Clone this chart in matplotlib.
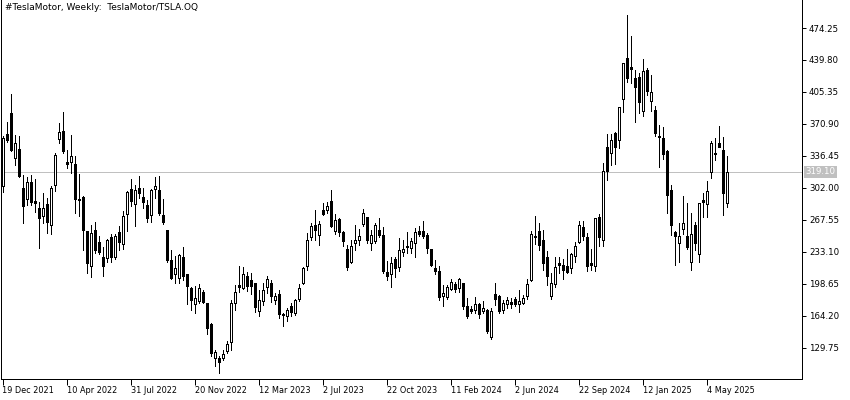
import matplotlib
matplotlib.use('Agg')
import matplotlib.pyplot as plt
import numpy as np

# weekly TSLA candles, first bar = week of 19 Dec 2021
opens = [303.6, 360.0, 382.6, 334.0, 344.0, 302.0, 290.0, 308.0, 287.5, 280.0,
         272.0, 285.0, 262.0, 305.0, 355.0, 363.0, 329.5, 330.0, 328.0, 290.0,
         292.0, 255.0, 218.0, 257.0, 244.0, 228.0, 226.0, 249.0, 228.0, 254.0,
         241.0, 274.0, 301.0, 285.0, 302.0, 292.0, 284.0, 273.0, 301.0, 300.0,
         273.0, 256.8, 224.5, 209.4, 204.8, 228.0, 209.4, 194.0, 177.0, 180.0,
         190.0, 177.6, 155.4, 118.6, 118.6, 118.6, 125.8, 135.5, 178.4, 195.0,
         194.0, 206.5, 203.0, 199.4, 168.8, 179.6, 195.0, 200.0, 180.7, 187.9,
         166.4, 163.4, 174.3, 167.1, 182.1, 200.0, 218.0, 248.8, 262.2, 251.4,
         278.3, 277.6, 288.3, 255.0, 268.3, 253.9, 236.0, 221.6, 243.1, 245.3,
         263.3, 271.0, 243.1, 244.2, 256.8, 251.4, 210.9, 209.4, 225.3, 216.6,
         233.4, 239.5, 237.0, 243.1, 255.0, 255.0, 251.4, 236.0, 215.5, 212.6,
         185.0, 184.3, 192.9, 198.6, 194.0, 199.4, 175.0, 168.8, 170.0, 177.0,
         168.8, 170.7, 141.2, 187.9, 185.0, 169.9, 177.1, 176.7, 182.5, 177.0,
         178.4, 185.0, 203.0, 249.0, 256.0, 245.3, 227.4, 185.0, 198.6, 221.0,
         219.0, 217.3, 215.5, 229.0, 243.2, 259.7, 249.0, 219.0, 218.0, 270.5,
         246.0, 345.8, 339.2, 361.5, 353.6, 397.5, 441.6, 431.9, 420.0, 421.8,
         384.3, 429.0, 396.0, 386.0, 358.0, 355.5, 341.5, 299.8, 254.0, 243.0,
         257.5, 250.0, 222.6, 262.0, 231.0, 289.0, 284.5, 319.0, 340.0, 350.1,
         343.0, 285.5]
highs = [357.7, 373.0, 402.7, 358.6, 358.0, 316.0, 314.0, 316.0, 311.0, 286.5,
         296.0, 291.0, 304.0, 340.0, 372.0, 384.0, 343.0, 359.0, 336.0, 317.0,
         293.0, 256.0, 262.0, 265.0, 250.0, 238.0, 247.0, 252.0, 252.0, 261.0,
         277.0, 298.5, 312.0, 305.0, 315.0, 302.0, 289.0, 301.0, 314.0, 315.0,
         290.0, 257.0, 235.0, 228.8, 231.0, 238.0, 209.4, 195.0, 195.7, 198.0,
         191.5, 178.0, 156.0, 127.6, 120.4, 127.0, 137.0, 181.0, 197.0, 218.0,
         217.0, 211.0, 210.0, 199.8, 191.4, 199.0, 207.5, 202.7, 189.0, 191.4,
         167.0, 172.0, 177.4, 182.0, 198.6, 217.0, 253.2, 264.6, 278.3, 266.0,
         285.5, 286.5, 299.8, 274.0, 269.5, 255.0, 240.6, 246.0, 262.2, 258.0,
         279.0, 271.0, 256.8, 264.0, 269.2, 259.5, 223.7, 228.0, 227.0, 248.0,
         245.3, 253.9, 248.0, 258.6, 260.5, 266.0, 253.0, 236.5, 224.5, 218.2,
         197.6, 197.0, 203.6, 201.0, 205.0, 199.4, 183.0, 175.0, 184.8, 177.6,
         179.6, 171.0, 172.4, 200.0, 187.0, 180.7, 184.8, 183.0, 184.0, 192.2,
         187.0, 203.6, 255.0, 272.0, 263.8, 256.8, 234.0, 210.0, 228.0, 228.0,
         225.3, 236.0, 232.0, 244.0, 266.0, 266.0, 253.0, 236.0, 270.0, 273.5,
         329.2, 360.0, 360.0, 362.0, 389.5, 437.0, 488.6, 465.3, 429.0, 426.0,
         440.5, 431.0, 423.7, 390.0, 369.8, 368.0, 343.0, 305.0, 255.0, 264.0,
         293.0, 286.0, 275.0, 265.7, 285.6, 296.6, 309.0, 353.0, 355.8, 368.7,
         357.3, 336.5]
lows = [298.0, 351.0, 342.0, 327.0, 314.0, 264.0, 284.0, 284.0, 276.0, 237.0,
        264.0, 253.0, 252.0, 299.0, 350.0, 340.0, 323.0, 318.0, 275.0, 272.0,
        235.0, 210.0, 206.0, 232.0, 231.0, 207.0, 222.0, 222.0, 225.0, 235.0,
        236.0, 256.0, 282.0, 261.0, 291.0, 280.0, 265.5, 265.0, 291.0, 273.0,
        263.0, 222.5, 203.7, 199.4, 200.0, 203.0, 177.0, 170.0, 167.0, 178.0,
        178.0, 145.0, 121.0, 109.6, 102.5, 116.0, 123.7, 127.0, 170.0, 189.3,
        193.0, 191.0, 188.0, 168.0, 164.2, 176.0, 189.0, 179.0, 177.0, 161.7,
        152.7, 158.8, 163.9, 165.0, 180.4, 198.5, 213.7, 245.3, 246.0, 240.6,
        273.0, 274.7, 260.0, 252.5, 250.0, 239.0, 213.7, 221.0, 235.0, 240.0,
        260.8, 243.0, 234.5, 243.0, 249.4, 210.0, 203.0, 195.1, 206.3, 212.0,
        228.8, 232.3, 231.7, 228.0, 249.6, 248.0, 232.0, 217.5, 209.4, 181.4,
        175.0, 182.0, 191.4, 189.3, 190.0, 171.0, 161.7, 167.0, 167.0, 161.7,
        167.0, 146.0, 139.0, 176.0, 167.0, 167.0, 173.0, 172.5, 175.0, 167.8,
        177.0, 182.0, 201.1, 241.0, 235.0, 213.7, 197.6, 182.0, 195.0, 210.0,
        203.7, 210.0, 210.0, 222.0, 242.5, 246.0, 212.0, 213.0, 212.0, 239.0,
        239.0, 310.0, 327.0, 328.0, 345.0, 384.0, 416.5, 415.0, 373.4, 383.0,
        379.5, 402.0, 384.3, 358.0, 325.0, 333.0, 275.0, 251.4, 219.0, 222.6,
        252.5, 236.0, 213.7, 235.0, 222.6, 271.0, 271.0, 312.8, 332.0, 346.0,
        273.0, 281.9]
closes = [355.7, 353.5, 342.3, 350.5, 315.0, 282.1, 308.0, 287.0, 285.7, 270.0,
          280.0, 265.0, 302.0, 337.0, 362.0, 342.0, 327.5, 336.5, 290.3, 288.6,
          256.5, 221.3, 253.0, 235.0, 233.0, 218.0, 245.7, 228.0, 250.5, 244.0,
          272.0, 297.0, 288.0, 300.0, 296.5, 287.0, 269.5, 299.7, 304.0, 275.0,
          265.5, 223.8, 204.8, 215.5, 229.9, 207.3, 195.7, 181.4, 183.0, 194.6,
          179.0, 151.0, 124.0, 124.7, 114.0, 123.2, 134.0, 178.4, 190.0, 197.6,
          209.4, 196.5, 196.5, 173.6, 181.4, 191.4, 204.0, 185.7, 185.7, 166.4,
          165.2, 170.7, 167.8, 181.4, 194.0, 215.5, 245.5, 261.0, 256.8, 263.3,
          274.0, 282.0, 260.4, 267.5, 253.9, 244.2, 216.6, 239.5, 246.0, 249.6,
          274.7, 245.3, 251.4, 262.2, 251.4, 212.0, 207.3, 221.0, 215.5, 235.2,
          236.0, 238.2, 244.2, 253.9, 252.5, 249.6, 237.0, 219.1, 212.0, 184.3,
          188.6, 195.0, 201.0, 192.9, 203.6, 175.0, 163.4, 171.4, 177.0, 166.4,
          172.4, 147.3, 168.8, 182.1, 168.8, 178.4, 180.7, 178.8, 177.1, 180.0,
          183.0, 198.6, 252.5, 250.0, 240.6, 221.0, 206.5, 200.0, 216.7, 219.0,
          213.7, 210.8, 230.4, 239.0, 262.0, 250.3, 218.0, 221.0, 269.4, 248.5,
          320.6, 320.6, 353.6, 345.8, 389.5, 436.2, 420.0, 430.4, 411.0, 394.9,
          428.3, 406.8, 405.7, 361.0, 356.6, 338.6, 294.5, 262.2, 249.6, 250.0,
          264.0, 238.2, 252.5, 242.5, 285.5, 287.0, 298.8, 350.0, 338.0, 346.5,
          296.3, 319.1]

price_ticks = [129.75, 164.20, 198.65, 233.10, 267.55, 302.00, 336.45,
               370.90, 405.35, 439.80, 474.25]
date_pos = [0, 16, 32, 48, 64, 80, 96, 112, 128, 144, 160, 176]
date_labels = ['19 Dec 2021', '10 Apr 2022', '31 Jul 2022', '20 Nov 2022',
               '12 Mar 2023', '2 Jul 2023', '22 Oct 2023', '11 Feb 2024',
               '2 Jun 2024', '22 Sep 2024', '12 Jan 2025', '4 May 2025']
last_price = 319.10

plt.rcParams.update({'font.family': 'DejaVu Sans', 'font.size': 6.2})

W, H = 850, 400
PX = 72 / 100  # one pixel in points
fig = plt.figure(figsize=(W / 100, H / 100), dpi=100, facecolor='white')
# plot frame in pixels: x 1..802, y 0..379
ax = fig.add_axes([1 / W, (H - 379) / H, 801 / W, 379 / H])
ax.set_facecolor('white')

o = np.array(opens); h = np.array(highs); l = np.array(lows); c = np.array(closes)
x = np.arange(len(o))
up = c >= o

# 474.25 sits at pixel row 28, 0.928 px per dollar
ppd = 319.7 / 344.5
dpx = 1 / ppd  # one pixel in dollars
ax.set_ylim(474.25 - (379 - 28) / ppd, 474.25 + 28 / ppd)
ax.set_xlim(-0.375, 199.875)

ax.axhline(last_price, color='#c0c0c0', lw=PX, zorder=1)
ax.vlines(x, l, h, color='black', lw=PX, antialiased=False, zorder=2)
top = np.maximum(o, c)
bot = np.minimum(o, c)
# bodies: 3 px wide black block, bullish ones hollowed out to 1 px border
ax.vlines(x, bot, np.maximum(top, bot + dpx), color='black', lw=3 * PX,
          antialiased=False, capstyle='butt', zorder=3)
hollow = up & (top - bot > 2.2 * dpx)
ax.vlines(x[hollow], bot[hollow] + dpx, top[hollow] - dpx, color='white',
          lw=PX, antialiased=False, capstyle='butt', zorder=4)

for s in ['left', 'right', 'bottom']:
    ax.spines[s].set_linewidth(PX)
    ax.spines[s].set_color('black')
ax.spines['top'].set_visible(False)

ax.yaxis.tick_right()
ax.set_yticks(price_ticks)
ax.set_yticklabels([f'{v:.2f}' for v in price_ticks])
ax.tick_params(axis='y', direction='out', length=3, width=PX, pad=2,
               labelsize=6.2, colors='black')
ax.set_xticks(date_pos)
ax.set_xticklabels(date_labels, ha='left')
ax.tick_params(axis='x', direction='out', length=4, width=PX, pad=1,
               labelsize=5.9, colors='black')

# current price tag
ax.annotate(f'{last_price:.2f}', xy=(1.0, last_price),
            xycoords=('axes fraction', 'data'), xytext=(2.5, 0),
            textcoords='offset points', va='center', ha='left',
            fontsize=6.2, color='white',
            bbox=dict(boxstyle='square,pad=0.22', facecolor='#c0c0c0',
                      edgecolor='none'))

fig.text(5 / W, 1 - 8 / H, '#TeslaMotor, Weekly:  TeslaMotor/TSLA.OQ',
         fontsize=6.5, va='center', ha='left', color='black')

fig.savefig('out.png', dpi=100, facecolor='white')
